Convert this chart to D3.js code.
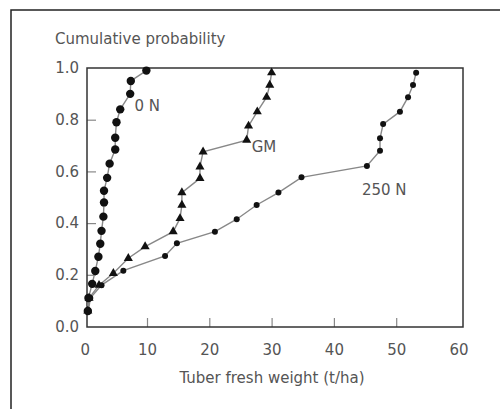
<!DOCTYPE html>
<html>
<head>
<meta charset="utf-8">
<script src="https://cdn.jsdelivr.net/npm/d3@7"></script>
<style>
  body { margin: 0; background: #fff; }
  svg { display: block; }
</style>
</head>
<body>
<svg id="chart" width="500" height="409"></svg>
<script>
// cumulative probability vs tuber fresh weight, three treatments
var xTicks = [0, 10, 20, 30, 40, 50, 60];
var yTicks = [0, 0.2, 0.4, 0.6, 0.8, 1.0];

var n0X = [0.5, 0.6, 1.2, 1.7, 2.2, 2.5, 2.7, 3.0, 3.1, 3.1, 3.6, 4.0, 4.9, 4.9, 5.1, 5.7, 7.3, 7.4, 9.9];
var n0P = [0.06, 0.11, 0.165, 0.215, 0.27, 0.32, 0.37, 0.425, 0.48, 0.525, 0.575, 0.63, 0.685, 0.73, 0.79, 0.84, 0.90, 0.95, 0.99];

var gmX = [0.5, 0.7, 2.3, 4.6, 7.0, 9.7, 14.2, 15.3, 15.6, 15.6, 18.5, 18.5, 19.0, 26.0, 26.3, 27.7, 29.2, 29.7, 30.0];
var gmP = [0.06, 0.11, 0.16, 0.206, 0.264, 0.309, 0.367, 0.418, 0.47, 0.518, 0.573, 0.618, 0.676, 0.721, 0.776, 0.831, 0.887, 0.934, 0.982];

var n250X = [0.6, 0.9, 2.7, 6.2, 12.9, 14.8, 20.9, 24.4, 27.6, 31.1, 34.8, 45.3, 47.4, 47.4, 47.9, 50.6, 51.9, 52.7, 53.2];
var n250P = [0.06, 0.11, 0.16, 0.216, 0.273, 0.322, 0.367, 0.415, 0.47, 0.518, 0.577, 0.621, 0.68, 0.728, 0.783, 0.831, 0.887, 0.934, 0.982];

var labels = [["0 N", 8.0, 0.835], ["GM", 26.8, 0.674], ["250 N", 44.5, 0.507]];

var font = 'DejaVu Sans, Verdana, sans-serif';
var svg = d3.select('#chart')
    .attr('font-family', font);

// outer frame of the scanned figure (right/bottom run off the page)
svg.append('path')
    .attr('d', 'M11,409 L11,10 L500,10')
    .attr('fill', 'none')
    .attr('stroke', '#222')
    .attr('stroke-width', 1.5);

var x = d3.scaleLinear().domain([0, 60]).range([84.7, 458.5]);
var y = d3.scaleLinear().domain([0, 1]).range([326.5, 68]);

var xAxis = svg.append('g')
    .attr('transform', 'translate(0,327)')
    .call(d3.axisBottom(x).tickValues(xTicks).tickSize(-9).tickPadding(17));
var yAxis = svg.append('g')
    .attr('transform', 'translate(87,0)')
    .call(d3.axisLeft(y).tickValues(yTicks).tickFormat(d3.format('.1f')).tickSize(-9).tickPadding(8));

[xAxis, yAxis].forEach(function(a) {
  a.select('.domain').remove();
  a.selectAll('text').attr('font-size', 15).attr('fill', '#555').attr('font-family', font);
  a.selectAll('line').attr('stroke', '#888').attr('stroke-width', 1.2);
});
xAxis.selectAll('.tick').filter(function(d) { return d == 0 || d == 60; }).select('line').remove();
yAxis.selectAll('.tick').filter(function(d) { return d == 0 || d == 1; }).select('line').remove();

// plot box
svg.append('rect')
    .attr('x', 87).attr('y', 68)
    .attr('width', 376).attr('height', 259)
    .attr('fill', 'none')
    .attr('stroke', '#333')
    .attr('stroke-width', 1.5);

function pts(xs, ps) {
  return xs.map(function(v, i) { return [v, ps[i]]; });
}

var line = d3.line()
    .x(function(d) { return x(d[0]); })
    .y(function(d) { return y(d[1]); });

var series = [
  {data: pts(n250X, n250P), shape: 'circle', r: 3},
  {data: pts(gmX, gmP), shape: 'tri', r: 4},
  {data: pts(n0X, n0P), shape: 'circle', r: 4.2}
];

series.forEach(function(s) {
  svg.append('path')
      .datum(s.data)
      .attr('d', line)
      .attr('fill', 'none')
      .attr('stroke', '#888')
      .attr('stroke-width', 1.4);
});

series.forEach(function(s) {
  var g = svg.append('g');
  if (s.shape == 'circle') {
    g.selectAll('circle')
        .data(s.data)
        .enter()
        .append('circle')
        .attr('cx', function(d) { return x(d[0]); })
        .attr('cy', function(d) { return y(d[1]); })
        .attr('r', s.r)
        .attr('fill', '#111');
  } else {
    var tri = d3.symbol().type(d3.symbolTriangle).size(36);
    g.selectAll('path')
        .data(s.data)
        .enter()
        .append('path')
        .attr('d', tri)
        .attr('transform', function(d) { return 'translate(' + x(d[0]) + ',' + y(d[1]) + ')'; })
        .attr('fill', '#111');
  }
});

svg.selectAll('.lab')
    .data(labels)
    .enter()
    .append('text')
    .attr('class', 'lab')
    .attr('x', function(d) { return x(d[1]); })
    .attr('y', function(d) { return y(d[2]); })
    .attr('font-size', 15)
    .attr('fill', '#555')
    .text(function(d) { return d[0]; });

svg.append('text')
    .attr('x', 55).attr('y', 44)
    .attr('font-size', 15)
    .attr('fill', '#555')
    .text('Cumulative probability');

svg.append('text')
    .attr('x', 272).attr('y', 383)
    .attr('text-anchor', 'middle')
    .attr('font-size', 15)
    .attr('fill', '#555')
    .text('Tuber fresh weight (t/ha)');
</script>
</body>
</html>
